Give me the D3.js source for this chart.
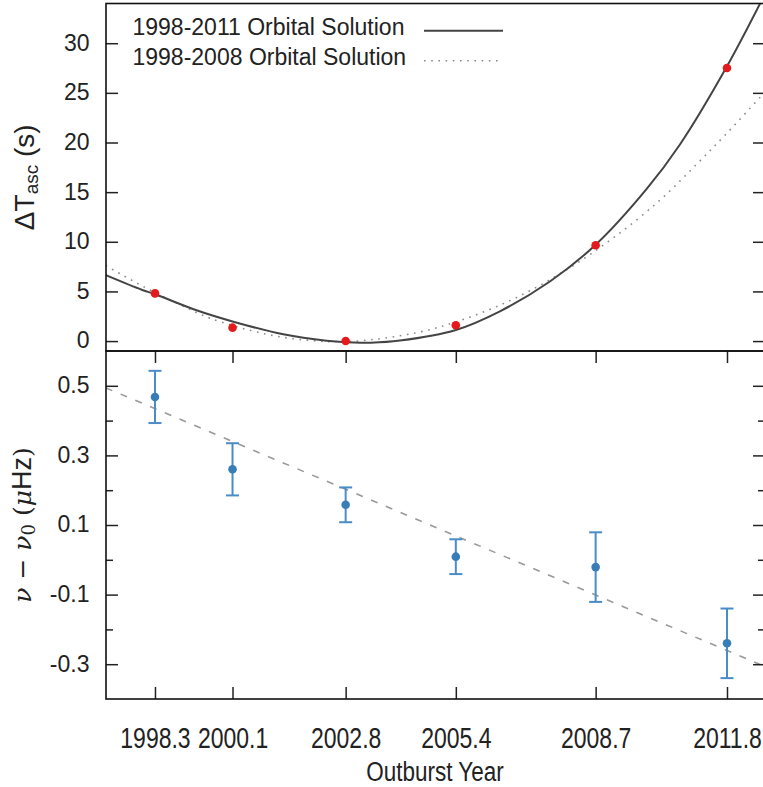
<!DOCTYPE html>
<html>
<head>
<meta charset="utf-8">
<script src="https://cdn.jsdelivr.net/npm/d3@7"></script>
<style>
  html, body { margin: 0; padding: 0; background: #fff; }
  svg { display: block; }
  text { font-family: "Liberation Sans", Arial, Helvetica, sans-serif; fill: #222; }
</style>
</head>
<body>
<script>
// ---------- data ----------
const outburstYears = [1998.3, 2000.13, 2002.8, 2005.4, 2008.7, 2011.8];
const yearLabels = ["1998.3", "2000.1", "2002.8", "2005.4", "2008.7", "2011.8"];

// Top panel: Delta T_asc (s)
const deltaTasc = [4.8, 1.35, 0.0, 1.6, 9.65, 27.5];

// 1998-2011 orbital solution
const fit2011Years = [1997.14, 1998.0, 1998.3, 1999.28, 2000.15, 2001.33, 2002.35, 2003.0, 2003.4, 2004.08, 2005.4, 2006.44, 2007.62, 2008.7, 2009.9, 2010.69, 2011.79, 2012.7];
const fit2011Vals  = [6.64, 5.15, 4.72, 3.1, 1.95, 0.68, 0.04, -0.15, -0.17, 0.05, 1.12, 3.0, 6.0, 9.7, 15.3, 19.8, 27.6, 35.0];

// 1998-2008 orbital solution
const fit2008Years = [1997.14, 1998.02, 1999.0, 1999.6, 2000.94, 2002.0, 2002.95, 2004.48, 2005.66, 2006.84, 2008.02, 2009.12, 2010.22, 2011.08, 2011.79, 2012.7];
const fit2008Vals  = [7.6, 5.5, 3.45, 2.3, 0.68, 0.05, -0.03, 0.85, 2.3, 4.4, 7.2, 10.4, 14.2, 17.8, 20.9, 25.1];

// Bottom panel: nu - nu0 (microHz) with errors
const nuDiff = [0.468, 0.26, 0.158, 0.009, -0.021, -0.24];
const nuErr  = [0.075, 0.075, 0.05, 0.05, 0.1, 0.1];

// linear trend (dashed)
const trendYears = [1997.14, 2012.7];
const trendVals  = [0.494, -0.307];

const topTicks = [0, 5, 10, 15, 20, 25, 30];
const bottomMajorTicks = [0.5, 0.3, 0.1, -0.1, -0.3];
const bottomMinorTicks = [0.4, 0.2, 0.0, -0.2];

const legendLabels = ["1998-2011 Orbital Solution", "1998-2008 Orbital Solution"];

// ---------- layout ----------
const W = 763, H = 787;
const L = 106, R = 765;
const topT = 3.5, midY = 351, botB = 699;

const svg = d3.select("body").append("svg").attr("width", W).attr("height", H);
svg.append("rect").attr("width", W).attr("height", H).attr("fill", "#fff");

const x = d3.scaleLinear().domain([1997.144, 2012.697]).range([L, R]);
const yTop = d3.scaleLinear().domain([-1, 34]).range([midY, topT]);
const yBot = d3.scaleLinear().domain([-0.4, 0.6]).range([botB, midY]);

const defs = svg.append("defs");
defs.append("clipPath").attr("id", "clipTop").append("rect")
  .attr("x", L).attr("y", topT).attr("width", R - L).attr("height", midY - topT);
defs.append("clipPath").attr("id", "clipBot").append("rect")
  .attr("x", L).attr("y", midY).attr("width", R - L).attr("height", botB - midY);

// ---------- top panel ----------
const gTop = svg.append("g").attr("clip-path", "url(#clipTop)");
const line = d3.line().curve(d3.curveCatmullRom.alpha(0.5));

gTop.append("path")
  .attr("d", line(fit2008Years.map((t, i) => [x(t), yTop(fit2008Vals[i])])))
  .attr("fill", "none").attr("stroke", "#8a8a8a").attr("stroke-width", 1.6)
  .attr("stroke-dasharray", "1.6,5.6").attr("stroke-linecap", "butt");

gTop.append("path")
  .attr("d", line(fit2011Years.map((t, i) => [x(t), yTop(fit2011Vals[i])])))
  .attr("fill", "none").attr("stroke", "#444").attr("stroke-width", 2);

gTop.selectAll("circle.red").data(outburstYears).enter().append("circle")
  .attr("class", "red")
  .attr("cx", d => x(d)).attr("cy", (d, i) => yTop(deltaTasc[i]))
  .attr("r", 4.3).attr("fill", "#e41a1c");

// legend
const leg = svg.append("g");
leg.selectAll("text").data(legendLabels).enter().append("text")
  .attr("x", 132.5).attr("y", (d, i) => 35 + i * 30)
  .style("font-size", "23px").text(d => d);
leg.append("line").attr("x1", 424).attr("x2", 503).attr("y1", 30.7).attr("y2", 30.7)
  .attr("stroke", "#444").attr("stroke-width", 2);
leg.append("line").attr("x1", 424).attr("x2", 500).attr("y1", 60.7).attr("y2", 60.7)
  .attr("stroke", "#8a8a8a").attr("stroke-width", 1.6).attr("stroke-dasharray", "1.6,5.6");

// ---------- bottom panel ----------
const gBot = svg.append("g").attr("clip-path", "url(#clipBot)");
gBot.append("path")
  .attr("d", d3.line()(trendYears.map((t, i) => [x(t), yBot(trendVals[i])])))
  .attr("fill", "none").attr("stroke", "#999").attr("stroke-width", 1.6)
  .attr("stroke-dasharray", "7,9");

const eb = gBot.selectAll("g.eb").data(outburstYears).enter().append("g").attr("class", "eb");
const blueLine = "#4a8cc8";
eb.append("line")
  .attr("x1", d => x(d)).attr("x2", d => x(d))
  .attr("y1", (d, i) => yBot(nuDiff[i] + nuErr[i])).attr("y2", (d, i) => yBot(nuDiff[i] - nuErr[i]))
  .attr("stroke", blueLine).attr("stroke-width", 2);
[1, -1].forEach(s => {
  eb.append("line")
    .attr("x1", d => x(d) - 6.5).attr("x2", d => x(d) + 6.5)
    .attr("y1", (d, i) => yBot(nuDiff[i] + s * nuErr[i])).attr("y2", (d, i) => yBot(nuDiff[i] + s * nuErr[i]))
    .attr("stroke", blueLine).attr("stroke-width", 2);
});
eb.append("circle")
  .attr("cx", d => x(d)).attr("cy", (d, i) => yBot(nuDiff[i]))
  .attr("r", 4.3).attr("fill", "#377eb8");

// ---------- axes ----------
function styleAxis(g) {
  g.select(".domain").remove();
  g.selectAll(".tick line").attr("stroke", "#222").attr("stroke-width", 1.5);
}
const tickFont = g => g.selectAll("text").style("font-size", "23px").attr("dy", "0.3em").attr("fill", "#222")
  .style("font-family", "'Liberation Sans', Arial, sans-serif");

// top panel left/right
svg.append("g").attr("transform", `translate(${L},0)`)
  .call(d3.axisLeft(yTop).tickValues(topTicks).tickSize(-12).tickPadding(16.5).tickFormat(d3.format("d")))
  .call(styleAxis).call(tickFont);
svg.append("g").attr("transform", `translate(${R},0)`)
  .call(d3.axisRight(yTop).tickValues(topTicks).tickSize(-12).tickFormat(""))
  .call(styleAxis);

// bottom panel left/right major + minor
svg.append("g").attr("transform", `translate(${L},0)`)
  .call(d3.axisLeft(yBot).tickValues(bottomMajorTicks).tickSize(-12).tickPadding(16.5).tickFormat(d => d.toFixed(1)))
  .call(styleAxis).call(tickFont);
svg.append("g").attr("transform", `translate(${L},0)`)
  .call(d3.axisLeft(yBot).tickValues(bottomMinorTicks).tickSize(-7).tickFormat(""))
  .call(styleAxis);
svg.append("g").attr("transform", `translate(${R},0)`)
  .call(d3.axisRight(yBot).tickValues(bottomMajorTicks).tickSize(-12).tickFormat(""))
  .call(styleAxis);
svg.append("g").attr("transform", `translate(${R},0)`)
  .call(d3.axisRight(yBot).tickValues(bottomMinorTicks).tickSize(-7).tickFormat(""))
  .call(styleAxis);

// bottom panel: top ticks (pointing down) and bottom axis (ticks pointing up)
svg.append("g").attr("transform", `translate(0,${midY})`)
  .call(d3.axisTop(x).tickValues(outburstYears).tickSize(-12).tickFormat(""))
  .call(styleAxis);
svg.append("g").attr("transform", `translate(0,${botB})`)
  .call(d3.axisBottom(x).tickValues(outburstYears).tickSize(-12).tickFormat((d, i) => yearLabels[i]))
  .call(styleAxis)
  .call(g => g.selectAll("text")
    .attr("y", 0).attr("dy", 0)
    .attr("transform", "translate(0,49) scale(1,1.25)")
    .attr("fill", "#222")
    .style("font-size", "23px")
    .style("font-family", "'Liberation Sans', Arial, sans-serif"));

// frames
[[topT, midY], [midY, botB]].forEach(([a, b]) => {
  svg.append("rect").attr("x", L).attr("y", a).attr("width", R - L).attr("height", b - a)
    .attr("fill", "none").attr("stroke", "#111").attr("stroke-width", 1.6);
});

// ---------- titles ----------
svg.append("text")
  .attr("transform", "translate(435,781) scale(1,1.2)")
  .attr("text-anchor", "middle").style("font-size", "22.5px").text("Outburst Year");

const t1 = svg.append("text")
  .attr("transform", `translate(33.5,${(topT + midY) / 2}) rotate(-90)`)
  .attr("text-anchor", "middle").style("font-size", "28px");
t1.append("tspan").text("\u0394T");
t1.append("tspan").attr("dy", 4).style("font-size", "19px").text("asc");
t1.append("tspan").attr("dy", -4).text(" (s)");

const t2 = svg.append("text")
  .attr("transform", `translate(31,${(midY + botB) / 2}) rotate(-90)`)
  .attr("text-anchor", "middle").style("font-size", "25px");
t2.append("tspan").style("font-family", "'DejaVu Serif', serif").style("font-style", "italic").text("\u03BD");
t2.append("tspan").style("font-family", "'DejaVu Serif', serif").text(" \u2212 ");
t2.append("tspan").style("font-family", "'DejaVu Serif', serif").style("font-style", "italic").text("\u03BD");
t2.append("tspan").style("font-family", "'DejaVu Serif', serif").attr("dy", 4).style("font-size", "18px").text("0");
t2.append("tspan").attr("dy", -4).style("font-family", "'DejaVu Serif', serif").text(" (");
t2.append("tspan").style("font-family", "'DejaVu Serif', serif").style("font-style", "italic").text("\u03BC");
t2.append("tspan").style("font-size", "27px").text("Hz");
t2.append("tspan").style("font-family", "'DejaVu Serif', serif").text(")");
</script>
</body>
</html>
